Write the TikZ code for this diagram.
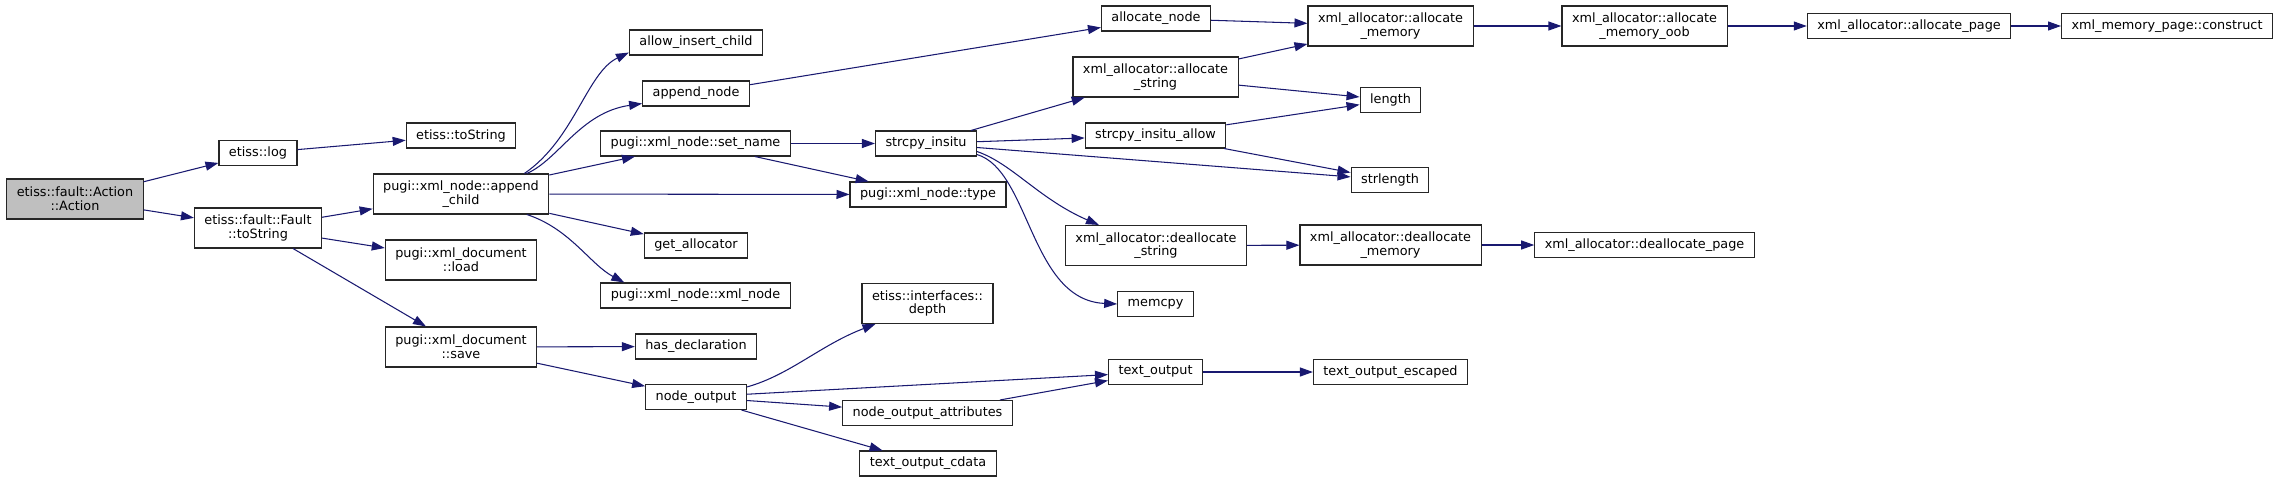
\documentclass[tikz,border=0pt]{standalone}
\usepackage{fontspec}
\setmainfont{DejaVu Sans}
\usepackage{tikz}
\usepackage{xcolor}
\usetikzlibrary{arrows.meta}
\definecolor{edgeblue}{HTML}{191970}
\definecolor{rootgray}{HTML}{BFBFBF}

\begin{document}
\begin{tikzpicture}[x=0.02cm,y=-0.02cm,
box/.style={draw=black!85,line width=0.6pt,fill=white,align=center,inner xsep=0.2cm,inner ysep=1pt,minimum height=0.5cm,font=\fontsize{7.3}{7.8}\selectfont},
tall/.style={box,minimum height=0.8cm},
arrow/.style={-{Triangle[length=0.26cm,width=0.18cm]},color=edgeblue,line width=0.6pt}
]
\useasboundingbox (0,0) rectangle (2287,483);
\node[tall,fill=rootgray] (action) at (75,199) {etiss::fault::Action\\::Action};
\node[box] (log) at (258,153) {etiss::log};
\node[box] (tostring) at (461,135.5) {etiss::toString};
\node[tall] (fault) at (258,228) {etiss::fault::Fault\\::toString};
\node[tall] (append) at (461,194) {pugi::xml\_node::append\\\_child};
\node[tall] (load) at (461,260) {pugi::xml\_document\\::load};
\node[tall] (save) at (461,347) {pugi::xml\_document\\::save};
\node[box] (allowins) at (696,42.5) {allow\_insert\_child};
\node[box] (appnode) at (696,93.5) {append\_node};
\node[box] (setname) at (695.5,143.5) {pugi::xml\_node::set\_name};
\node[box] (gettype) at (928,194.5) {pugi::xml\_node::type};
\node[box] (getalloc) at (696,245.5) {get\_allocator};
\node[box] (xmlnode) at (695.5,295.5) {pugi::xml\_node::xml\_node};
\node[box] (hasdecl) at (696,346.5) {has\_declaration};
\node[box] (nodeout) at (696,397) {node\_output};
\node[tall] (depth) at (927.5,303.5) {etiss::interfaces::\\depth};
\node[box] (attrs) at (927.5,413) {node\_output\_attributes};
\node[box] (cdata) at (928,463.5) {text\_output\_cdata};
\node[box] (strcpy) at (926,143.5) {strcpy\_insitu};
\node[box] (allocnode) at (1156,18.5) {allocate\_node};
\node[tall] (allocstr) at (1155.5,77) {xml\_allocator::allocate\\\_string};
\node[box] (strcpyallow) at (1155.5,135.5) {strcpy\_insitu\_allow};
\node[tall] (dealstr) at (1156,245.5) {xml\_allocator::deallocate\\\_string};
\node[box] (memcpy) at (1155.5,304) {memcpy};
\node[box] (textout) at (1155.5,372) {text\_output};
\node[tall] (allocmem) at (1390.5,26) {xml\_allocator::allocate\\\_memory};
\node[box] (length) at (1390.5,100) {length};
\node[box] (strlength) at (1390,180) {strlength};
\node[tall] (dealmem) at (1390.5,245) {xml\_allocator::deallocate\\\_memory};
\node[box] (escaped) at (1390.5,372) {text\_output\_escaped};
\node[tall] (oob) at (1644.5,26) {xml\_allocator::allocate\\\_memory\_oob};
\node[box] (dealpage) at (1644.5,245) {xml\_allocator::deallocate\_page};
\node[box] (allocpage) at (1909,26) {xml\_allocator::allocate\_page};
\node[box] (construct) at (2167,26) {xml\_memory\_page::construct};
\draw[arrow] (action) -- (log);
\draw[arrow] (action) -- (fault);
\draw[arrow] (log) -- (tostring);
\draw[arrow] (fault) -- (append);
\draw[arrow] (fault) -- (load);
\draw[arrow] (fault) -- (save);
\draw[arrow] ([xshift=-0.5cm]append.north east) .. controls +(50,-34) and +(-42,20) .. ([yshift=0.06cm]allowins.south west);
\draw[arrow] ([xshift=-0.45cm]append.north east) .. controls +(32,-14) and +(-62,9) .. ([yshift=0.06cm]appnode.south west);
\draw[arrow] (append) -- (setname);
\draw[arrow] (append) -- (gettype);
\draw[arrow] (append) -- (getalloc);
\draw[arrow] ([xshift=-0.45cm]append.south east) .. controls +(43,14) and +(-34,-18) .. ([xshift=0.48cm]xmlnode.north west);
\draw[arrow] (setname) -- (strcpy);
\draw[arrow] (setname) -- (gettype);
\draw[arrow] (appnode) -- (allocnode);
\draw[arrow] (allocnode) -- (allocmem);
\draw[arrow] (strcpy) -- (allocstr);
\draw[arrow] (strcpy) -- (strcpyallow);
\draw[arrow] (strcpy) -- (strlength);
\draw[arrow] ([yshift=0.1cm]strcpy.south east) .. controls +(35,12) and +(-60,-26) .. ([xshift=0.68cm]dealstr.north west);
\draw[arrow] ([yshift=0.04cm]strcpy.south east) .. controls +(53,16) and +(-87,-4) .. (memcpy.west);
\draw[arrow] (allocstr) -- (allocmem);
\draw[arrow] (allocstr) -- (length);
\draw[arrow] (strcpyallow) -- (length);
\draw[arrow] (strcpyallow) -- (strlength);
\draw[arrow] (allocmem) -- (oob);
\draw[arrow] (oob) -- (allocpage);
\draw[arrow] (allocpage) -- (construct);
\draw[arrow] (dealstr) -- (dealmem);
\draw[arrow] (dealmem) -- (dealpage);
\draw[arrow] (save) -- (hasdecl);
\draw[arrow] (save) -- (nodeout);
\draw[arrow] ([yshift=-0.06cm]nodeout.north east) .. controls +(43,-12) and +(-55,21) .. ([xshift=0.28cm]depth.south west);
\draw[arrow] (nodeout) -- (textout);
\draw[arrow] (nodeout) -- (attrs);
\draw[arrow] (nodeout) -- (cdata);
\draw[arrow] (attrs) -- (textout);
\draw[arrow] (textout) -- (escaped);
\end{tikzpicture}
\end{document}
